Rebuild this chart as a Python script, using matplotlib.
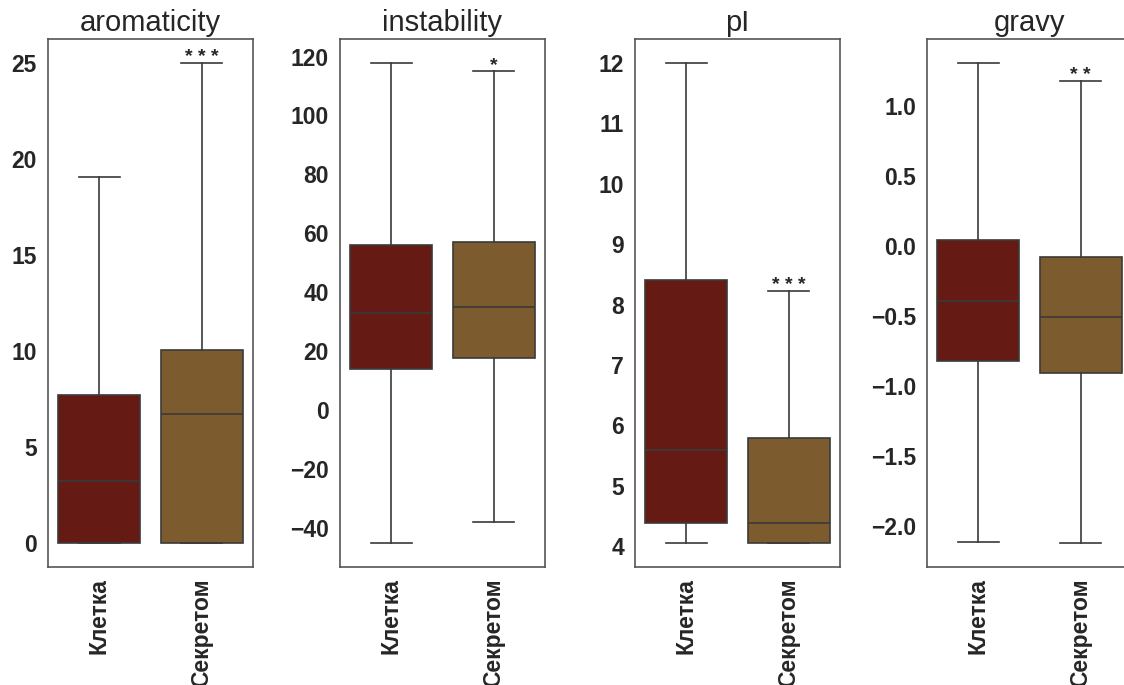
import matplotlib
matplotlib.use("Agg")
import matplotlib.pyplot as plt

# group labels and colours
groups = ["Клетка", "Секретом"]
colors = ["#661a14", "#7c5c2e"]

# panel titles
titles = ["aromaticity", "instability", "pI", "gravy"]

# box statistics: [whislo, q1, med, q3, whishi] per group
aromaticity = [[0.0, 0.0, 3.23, 7.73, 19.05], [0.0, 0.0, 6.7, 10.05, 25.0]]
instability = [[-45.1, 13.9, 32.8, 55.9, 117.8], [-38.0, 17.6, 34.9, 57.2, 115.1]]
pI = [[4.05, 4.38, 5.59, 8.41, 12.0], [4.05, 4.05, 4.38, 5.79, 8.22]]
gravy = [[-2.12, -0.82, -0.39, 0.044, 1.31], [-2.125, -0.91, -0.506, -0.075, 1.18]]

# significance marks over the second group
stars = ["* * *", "*", "* * *", "* *"]

panels = [aromaticity, instability, pI, gravy]

plt.rcParams['font.family'] = ['Liberation Sans', 'DejaVu Sans']

fig = plt.figure(figsize=(11.24, 6.85), dpi=100)
lefts = [48, 340, 635, 927]
edge = "#3a3a3a"
txt = "#262626"

for i in range(4):
    ax = fig.add_axes([lefts[i] / 1124, 118 / 685, 205 / 1124, 528 / 685])
    stats = []
    for j in range(2):
        lo, q1, med, q3, hi = panels[i][j]
        stats.append(dict(whislo=lo, q1=q1, med=med, q3=q3, whishi=hi,
                          fliers=[], label=groups[j]))
    bp = ax.bxp(stats, positions=[0, 1], widths=0.8, patch_artist=True,
                showfliers=False,
                boxprops=dict(edgecolor=edge, linewidth=1.2),
                whiskerprops=dict(color=edge, linewidth=1.2),
                capprops=dict(color=edge, linewidth=1.2),
                medianprops=dict(color=edge, linewidth=1.2))
    for patch, c in zip(bp['boxes'], colors):
        patch.set_facecolor(c)
    ax.set_xlim(-0.5, 1.5)
    ax.set_title(titles[i], fontsize=21, color=txt)
    ax.annotate(stars[i], xy=(1, panels[i][1][4]), xytext=(0, -2),
                textcoords="offset points", ha="center", va="bottom",
                fontsize=14, fontweight="bold", color=txt)
    ax.tick_params(length=0, pad=8, labelsize=16.5, labelcolor=txt)
    ax.set_xticks([0, 1])
    ax.set_xticklabels(groups, rotation=90, fontweight="bold", fontsize=16.5)
    for lab in ax.get_yticklabels():
        lab.set_fontweight("bold")
    for s in ax.spines.values():
        s.set_color("#555555")
        s.set_linewidth(1.2)

fig.savefig("out.png", dpi=100)
